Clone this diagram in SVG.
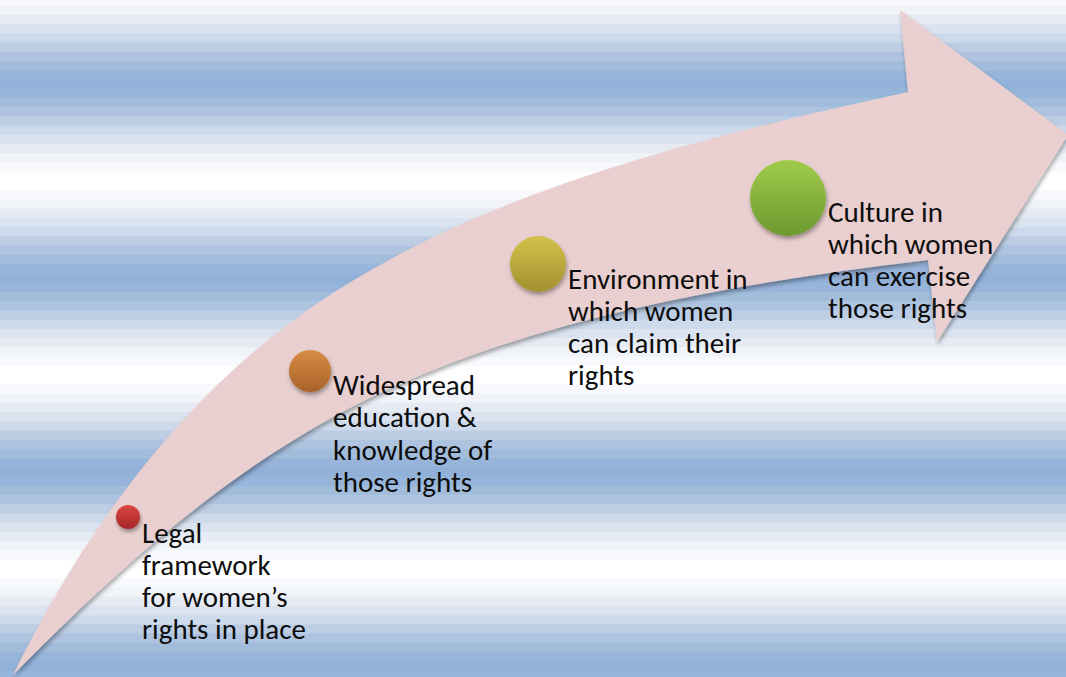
<svg xmlns="http://www.w3.org/2000/svg" width="1066" height="677" viewBox="0 0 1066 677">
  <defs>
    <!-- stepped horizontal banding, one period = 21 bands -->
    <pattern id="bands" patternUnits="userSpaceOnUse" x="0" y="-13" width="1066" height="194">
      <rect y="0" width="1066" height="9.8" fill="#ffffff"/>
      <rect y="9.24" width="1066" height="9.8" fill="#f7f9fc"/>
      <rect y="18.48" width="1066" height="9.8" fill="#f0f3f8"/>
      <rect y="27.71" width="1066" height="9.8" fill="#e6ebf3"/>
      <rect y="36.95" width="1066" height="9.8" fill="#dae3ef"/>
      <rect y="46.19" width="1066" height="9.8" fill="#cddaeb"/>
      <rect y="55.43" width="1066" height="9.8" fill="#bccde4"/>
      <rect y="64.67" width="1066" height="9.8" fill="#aec3df"/>
      <rect y="73.9" width="1066" height="9.8" fill="#a1bddb"/>
      <rect y="83.14" width="1066" height="9.8" fill="#97b4da"/>
      <rect y="92.38" width="1066" height="9.8" fill="#91b1d8"/>
      <rect y="101.62" width="1066" height="9.8" fill="#97b4da"/>
      <rect y="110.86" width="1066" height="9.8" fill="#a1bddb"/>
      <rect y="120.1" width="1066" height="9.8" fill="#aec3df"/>
      <rect y="129.33" width="1066" height="9.8" fill="#bccde4"/>
      <rect y="138.57" width="1066" height="9.8" fill="#cddaeb"/>
      <rect y="147.81" width="1066" height="9.8" fill="#dae3ef"/>
      <rect y="157.05" width="1066" height="9.8" fill="#e6ebf3"/>
      <rect y="166.29" width="1066" height="9.8" fill="#f0f3f8"/>
      <rect y="175.52" width="1066" height="9.8" fill="#f7f9fc"/>
      <rect y="184.76" width="1066" height="9.24" fill="#ffffff"/>
    </pattern>

    <filter id="shadow" x="-10%" y="-10%" width="120%" height="130%">
      <feGaussianBlur in="SourceAlpha" stdDeviation="2"/>
      <feOffset dx="1" dy="3" result="blur"/>
      <feComponentTransfer><feFuncA type="linear" slope="0.35"/></feComponentTransfer>
      <feMerge><feMergeNode/><feMergeNode in="SourceGraphic"/></feMerge>
    </filter>

    <linearGradient id="g-red" x1="0" y1="0" x2="0" y2="1">
      <stop offset="0" stop-color="#dc4440"/>
      <stop offset="1" stop-color="#a52828"/>
    </linearGradient>
    <linearGradient id="g-orange" x1="0" y1="0" x2="0" y2="1">
      <stop offset="0" stop-color="#d88c44"/>
      <stop offset="1" stop-color="#a8622a"/>
    </linearGradient>
    <linearGradient id="g-yellow" x1="0" y1="0" x2="0" y2="1">
      <stop offset="0" stop-color="#d3c24a"/>
      <stop offset="1" stop-color="#a39030"/>
    </linearGradient>
    <linearGradient id="g-green" x1="0" y1="0" x2="0" y2="1">
      <stop offset="0" stop-color="#a0cc4a"/>
      <stop offset="1" stop-color="#6c982f"/>
    </linearGradient>
  </defs>

  <style>
    .label { font-family: "Carlito", "Lato", "Liberation Sans", sans-serif; font-size: 29px; fill: #0d0d0d; }
    .dot { filter: url(#shadow); }
  </style>

  <!-- background -->
  <rect x="0" y="0" width="1066" height="677" fill="url(#bands)"/>

  <!-- curved progress arrow -->
  <g id="connectors">
    <path id="progress-arrow" filter="url(#shadow)" fill="#e9cfcf"
          d="M13,675 C88,523 190,385 333,293 C501,185 713,135 908,92 L900,10 L1068,135 L937,342 L928,260 C729,284 508,321 333,417 C213,483 109,577 13,675 Z"/>
  </g>

  <g id="node-legal">
    <circle class="dot" cx="128" cy="517" r="12" fill="url(#g-red)"/>
    <text class="label">
      <tspan x="142" y="543">Legal</tspan>
      <tspan x="142" y="575">framework</tspan>
      <tspan x="142" y="607">for women’s</tspan>
      <tspan x="142" y="639">rights in place</tspan>
    </text>
  </g>

  <g id="node-education">
    <circle class="dot" cx="310" cy="371" r="21" fill="url(#g-orange)"/>
    <text class="label">
      <tspan x="333" y="395">Widespread</tspan>
      <tspan x="333" y="427">education &amp;</tspan>
      <tspan x="333" y="460">knowledge of</tspan>
      <tspan x="333" y="492">those rights</tspan>
    </text>
  </g>

  <g id="node-environment">
    <circle class="dot" cx="538" cy="264" r="28" fill="url(#g-yellow)"/>
    <text class="label">
      <tspan x="568" y="289">Environment in</tspan>
      <tspan x="568" y="321">which women</tspan>
      <tspan x="568" y="353">can claim their</tspan>
      <tspan x="568" y="385">rights</tspan>
    </text>
  </g>

  <g id="node-culture">
    <circle class="dot" cx="788" cy="198" r="38" fill="url(#g-green)"/>
    <text class="label">
      <tspan x="828" y="222">Culture in</tspan>
      <tspan x="828" y="254">which women</tspan>
      <tspan x="828" y="286">can exercise</tspan>
      <tspan x="828" y="318">those rights</tspan>
    </text>
  </g>
</svg>
